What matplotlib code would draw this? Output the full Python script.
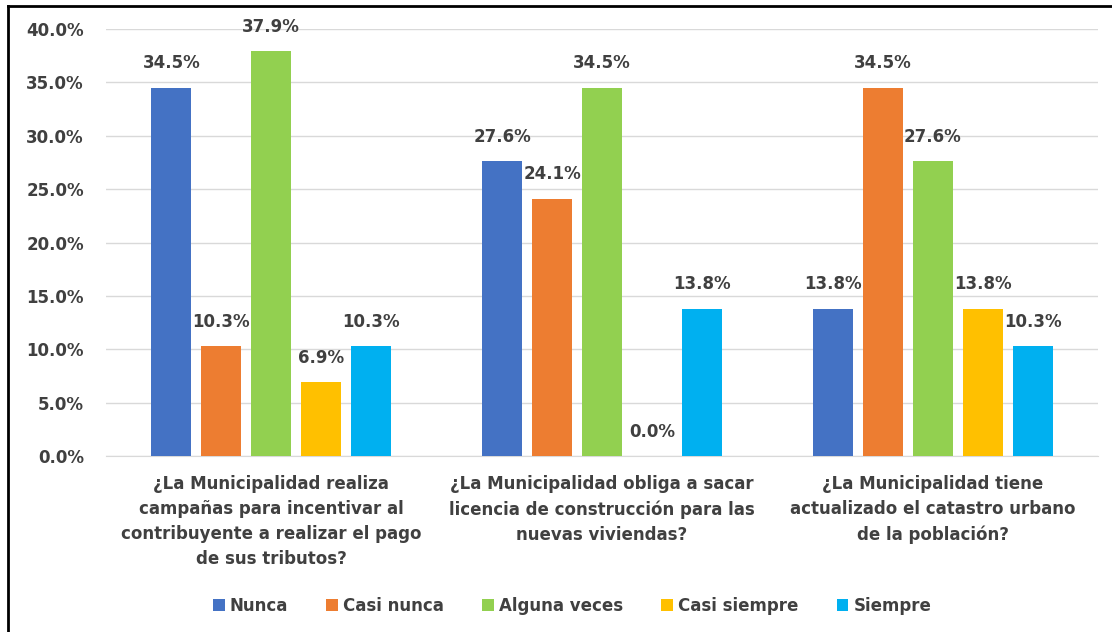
import matplotlib
matplotlib.use("Agg")
import matplotlib.pyplot as plt
from matplotlib.lines import Line2D
import numpy as np

# chart data
questions = [
    "¿La Municipalidad realiza\ncampañas para incentivar al\ncontribuyente a realizar el pago\nde sus tributos?",
    "¿La Municipalidad obliga a sacar\nlicencia de construcción para las\nnuevas viviendas?",
    "¿La Municipalidad tiene\nactualizado el catastro urbano\nde la población?",
]
series_names = ["Nunca", "Casi nunca", "Alguna veces", "Casi siempre", "Siempre"]
nunca = [34.5, 27.6, 13.8]
casi_nunca = [10.3, 24.1, 34.5]
alguna_veces = [37.9, 34.5, 27.6]
casi_siempre = [6.9, 0.0, 13.8]
siempre = [10.3, 13.8, 10.3]
yticks = [0, 5, 10, 15, 20, 25, 30, 35, 40]

colors = ["#4472C4", "#ED7D31", "#92D050", "#FFC000", "#00B0F0"]
text_color = "#404040"

plt.rcParams['font.family'] = ['DejaVu Sans']

fig = plt.figure(figsize=(11.12, 6.32), dpi=100)
ax = fig.add_axes([0.0953, 0.2785, 0.8921, 0.6755])

x = np.arange(len(questions))
step = 0.151
width = 0.121
all_series = [nunca, casi_nunca, alguna_veces, casi_siempre, siempre]
for i, (vals, name, col) in enumerate(zip(all_series, series_names, colors)):
    xs = x + (i - 2) * step
    ax.bar(xs, vals, width=width, color=col, label=name, zorder=3)
    for xi, v in zip(xs, vals):
        ax.annotate(f"{v:.1f}%", (xi, v), xytext=(0, 11), textcoords="offset points",
                    ha="center", va="bottom", fontsize=12, fontweight="bold",
                    color=text_color)

ax.set_xlim(-0.5, 2.5)
ax.set_ylim(0, 40)
ax.set_yticks(yticks)
ax.set_yticklabels([f"{t:.1f}%" for t in yticks], fontsize=12, fontweight="bold",
                   color=text_color)
ax.yaxis.grid(True, color="#D9D9D9", linewidth=1, zorder=0)
ax.set_xticks(x)
ax.set_xticklabels(questions, fontsize=12, fontweight="bold", color=text_color,
                   linespacing=1.5)
ax.tick_params(axis="both", length=0)
ax.tick_params(axis="y", pad=16)
ax.tick_params(axis="x", pad=14)
for s in ["top", "right", "left"]:
    ax.spines[s].set_visible(False)
ax.spines["bottom"].set_color("#D9D9D9")

leg = fig.legend(loc="center", bbox_to_anchor=(572 / 1112, 0.041), ncol=5,
                 frameon=False, handlelength=0.7, handleheight=0.7,
                 handletextpad=0.3, columnspacing=2.3,
                 prop={"size": 12, "weight": "bold"})
for t in leg.get_texts():
    t.set_color(text_color)

# partial frame (left and top edges only)
fig.add_artist(Line2D([8 / 1112, 8 / 1112], [0, 1 - 6 / 632], color="black", lw=2,
                      transform=fig.transFigure))
fig.add_artist(Line2D([8 / 1112, 1], [1 - 6 / 632, 1 - 6 / 632], color="black", lw=2,
                      transform=fig.transFigure))

fig.savefig("out.png", dpi=100)
